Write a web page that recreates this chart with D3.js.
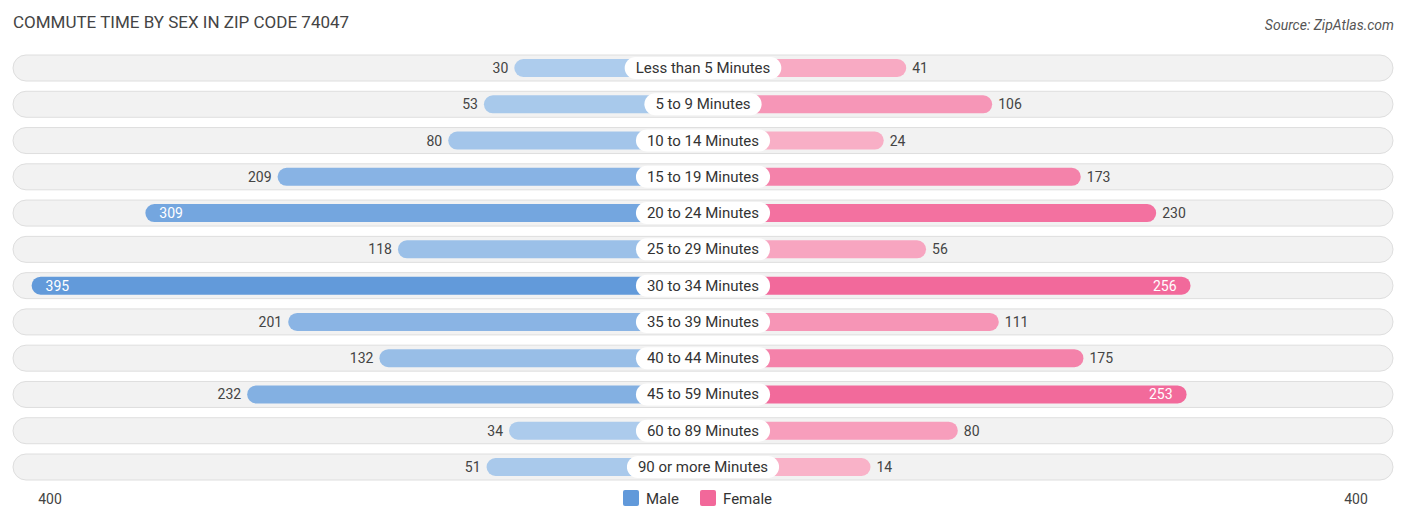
<!DOCTYPE html>
<html><head><meta charset="utf-8">
<script src="https://cdn.jsdelivr.net/npm/d3@7"></script>
<style>body{margin:0;background:#fff;font-family:Roboto,sans-serif}</style>
</head><body>
<script>
var categories = ['Less than 5 Minutes','5 to 9 Minutes','10 to 14 Minutes','15 to 19 Minutes','20 to 24 Minutes','25 to 29 Minutes','30 to 34 Minutes','35 to 39 Minutes','40 to 44 Minutes','45 to 59 Minutes','60 to 89 Minutes','90 or more Minutes'];
var male = [30,53,80,209,309,118,395,201,132,232,34,51];
var female = [41,106,24,173,230,56,256,111,175,253,80,14];
var axisMax = 400;

var W = 1406, H = 523, cx = 703, off = 149;
var svg = d3.select('body').append('svg').attr('width', W).attr('height', H);

var len = d3.scaleLinear().domain([0, axisMax]).range([off, off + 529]);
var y = d3.scalePoint().domain(categories).range([68, 467]);
var maleCol = d3.scaleLinear().domain([0, axisMax]).range(['#b3d0ee', '#6199da']);
var femCol = d3.scaleLinear().domain([0, 260]).range(['#f9b6cb', '#f2689a']);

svg.append('text').attr('x', 13).attr('y', 28).attr('font-size', 17).attr('fill', '#444')
    .text('COMMUTE TIME BY SEX IN ZIP CODE 74047');
svg.append('text').attr('x', 1394).attr('y', 30).attr('text-anchor', 'end').attr('font-size', 14)
    .attr('font-style', 'italic').attr('fill', '#555').text('Source: ZipAtlas.com');

var rows = svg.selectAll('g.row').data(categories).enter().append('g')
    .attr('transform', function (d) { return 'translate(0,' + y(d) + ')'; });

rows.append('rect').attr('x', 13).attr('y', -13).attr('width', 1380).attr('height', 26)
    .attr('rx', 13).attr('fill', '#f2f2f2').attr('stroke', '#dedede');

rows.append('rect')
    .attr('x', function (d, i) { return cx - len(male[i]); }).attr('y', -9)
    .attr('width', function (d, i) { return len(male[i]); }).attr('height', 18).attr('rx', 9)
    .attr('fill', function (d, i) { return maleCol(male[i]); });
rows.append('rect')
    .attr('x', cx).attr('y', -9)
    .attr('width', function (d, i) { return len(female[i]); }).attr('height', 18).attr('rx', 9)
    .attr('fill', function (d, i) { return femCol(female[i]); });

rows.each(function (d, i) {
    var g = d3.select(this);
    var t = g.append('text').attr('x', cx).attr('y', 5).attr('text-anchor', 'middle')
        .attr('font-size', 15).attr('fill', '#333').text(d);
    var w = t.node().getComputedTextLength() + 22;
    g.insert('rect', 'text').attr('x', cx - w / 2).attr('y', -11).attr('width', w).attr('height', 22)
        .attr('rx', 11).attr('fill', '#fff');
    var mIn = male[i] > 280, fIn = female[i] > 240;
    g.append('text').attr('y', 5).attr('font-size', 14)
        .attr('x', mIn ? cx - len(male[i]) + 14 : cx - len(male[i]) - 6)
        .attr('text-anchor', mIn ? 'start' : 'end')
        .attr('fill', mIn ? '#fff' : '#444').text(male[i]);
    g.append('text').attr('y', 5).attr('font-size', 14)
        .attr('x', fIn ? cx + len(female[i]) - 14 : cx + len(female[i]) + 6)
        .attr('text-anchor', fIn ? 'end' : 'start')
        .attr('fill', fIn ? '#fff' : '#444').text(female[i]);
});

svg.append('text').attr('x', 50).attr('y', 504).attr('text-anchor', 'middle').attr('font-size', 14).attr('fill', '#444').text(axisMax);
svg.append('text').attr('x', 1356).attr('y', 504).attr('text-anchor', 'middle').attr('font-size', 14).attr('fill', '#444').text(axisMax);

var legend = [['Male', '#6199da', 623], ['Female', '#f2689a', 700]];
legend.forEach(function (l) {
    svg.append('rect').attr('x', l[2]).attr('y', 490).attr('width', 16).attr('height', 16).attr('rx', 2).attr('fill', l[1]);
    svg.append('text').attr('x', l[2] + 23).attr('y', 504).attr('font-size', 15).attr('fill', '#333').text(l[0]);
});
</script>
</body></html>
